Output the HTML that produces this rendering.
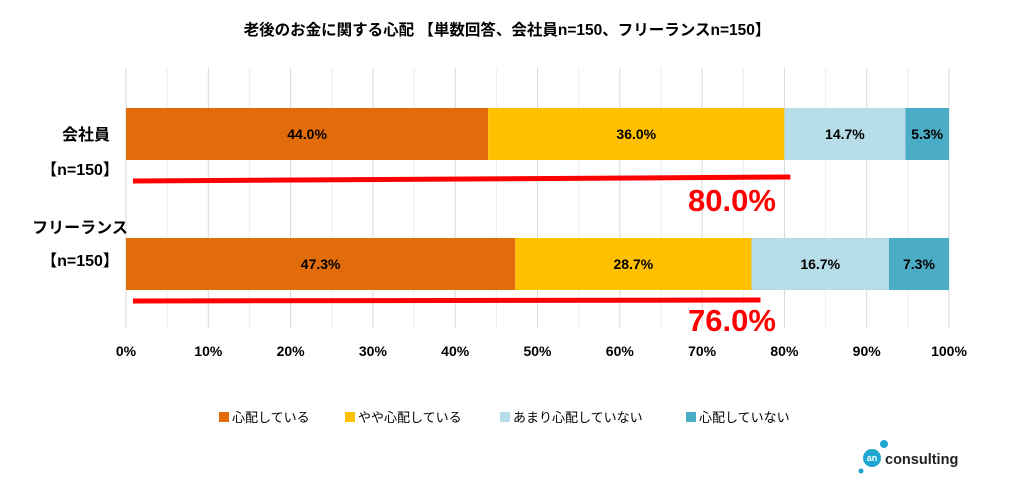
<!DOCTYPE html>
<html><head><meta charset="utf-8"><style>
body{margin:0;background:#fff;width:1014px;height:495px;overflow:hidden;font-family:"Liberation Sans","Noto Sans CJK JP",sans-serif}
</style></head><body>
<svg id="c" width="1014" height="495" xmlns="http://www.w3.org/2000/svg" font-family="Liberation Sans, Noto Sans CJK JP, sans-serif">
<text x="507" y="35" text-anchor="middle" font-size="15.5" font-weight="bold" fill="#000">老後のお金に関する心配 【単数回答、会社員n=150、フリーランスn=150】</text>
<g id="grid"></g><g id="bars"></g><g id="ann"></g><g id="legend"></g>
<g>
<circle cx="872" cy="458" r="9" fill="#1ea6cf"/><circle cx="884" cy="444" r="4" fill="#1ea6cf"/><circle cx="861" cy="471" r="2.5" fill="#1ea6cf"/>
<text x="872" y="461" text-anchor="middle" font-size="9" font-weight="bold" fill="#fff">an</text>
<text x="885" y="464" font-size="14.5" font-weight="bold" fill="#222">consulting</text></g>
</svg>
<script>
const categories=["会社員","フリーランス"];
const seriesNames=["心配している","やや心配している","あまり心配していない","心配していない"];
const s1=[44.0,47.3];
const s2=[36.0,28.7];
const s3=[14.7,16.7];
const s4=[5.3,7.3];
const totals=[80.0,76.0];
const ticks=[0,10,20,30,40,50,60,70,80,90,100];
const colors=["#e36c0a","#ffc000","#b6dde8","#4bacc6"];
const NS="http://www.w3.org/2000/svg";
const x=v=>126+v*8.23;
const barTop=[108,238],barH=52;
function mk(tag,attrs,parent,txt){const e=document.createElementNS(NS,tag);for(const k in attrs)e.setAttribute(k,attrs[k]);if(txt!==undefined)e.textContent=txt;parent.appendChild(e);return e;}
const grid=document.getElementById('grid'),bars=document.getElementById('bars'),ann=document.getElementById('ann'),leg=document.getElementById('legend');
for(let v=0;v<=100;v+=5){const l=mk('line',{x1:x(v),x2:x(v),y1:68,y2:328,stroke:v%10===0?'#d9d9d9':'#ededed','stroke-width':1},grid);

}
ticks.forEach(t=>{const e=mk('text',{x:x(t),y:356,'text-anchor':'middle','font-size':14,'font-weight':'bold',fill:'#000'},grid,t+'%');

});
const series=[s1,s2,s3,s4];
categories.forEach((c,i)=>{let acc=0;
series.forEach((s,j)=>{const r=mk('rect',{x:x(acc),y:barTop[i],width:x(acc+s[i])-x(acc),height:barH,fill:colors[j]},bars);


const t=mk('text',{x:(x(acc)+x(acc+s[i]))/2,y:barTop[i]+31,'text-anchor':'middle','font-size':14,'font-weight':'bold',fill:'#000'},bars,s[i].toFixed(1)+'%');


acc+=s[i];});
const cl=mk('text',{x:i?80:86,y:i?233:140,'text-anchor':'middle','font-size':16,'font-weight':'bold',fill:'#000'},bars,c);


const nl=mk('text',{x:80,y:i?266:175,'text-anchor':'middle','font-size':16,'font-weight':'bold',fill:'#000'},bars,'【n=150】');


const ly=barTop[i]+barH+(i?11:19);
const rl=mk('line',{x1:133,x2:x(totals[i])+(i?9:6),y1:ly+(i?0:2),y2:ly-(i?1:2),stroke:'#ff0000','stroke-width':5},ann);


const tl=mk('text',{x:732,y:i?331:211,'text-anchor':'middle','font-size':31,'font-weight':'bold',fill:'#ff0000'},ann,totals[i].toFixed(1)+'%');

});
const lx=[219,345,500,686];
seriesNames.forEach((n,j)=>{const g=mk('g',{},leg);


mk('rect',{x:lx[j],y:412,width:10,height:10,fill:colors[j]},g);
mk('text',{x:lx[j]+13,y:422,'font-size':13,fill:'#000'},g,n);});
</script>
</body></html>
